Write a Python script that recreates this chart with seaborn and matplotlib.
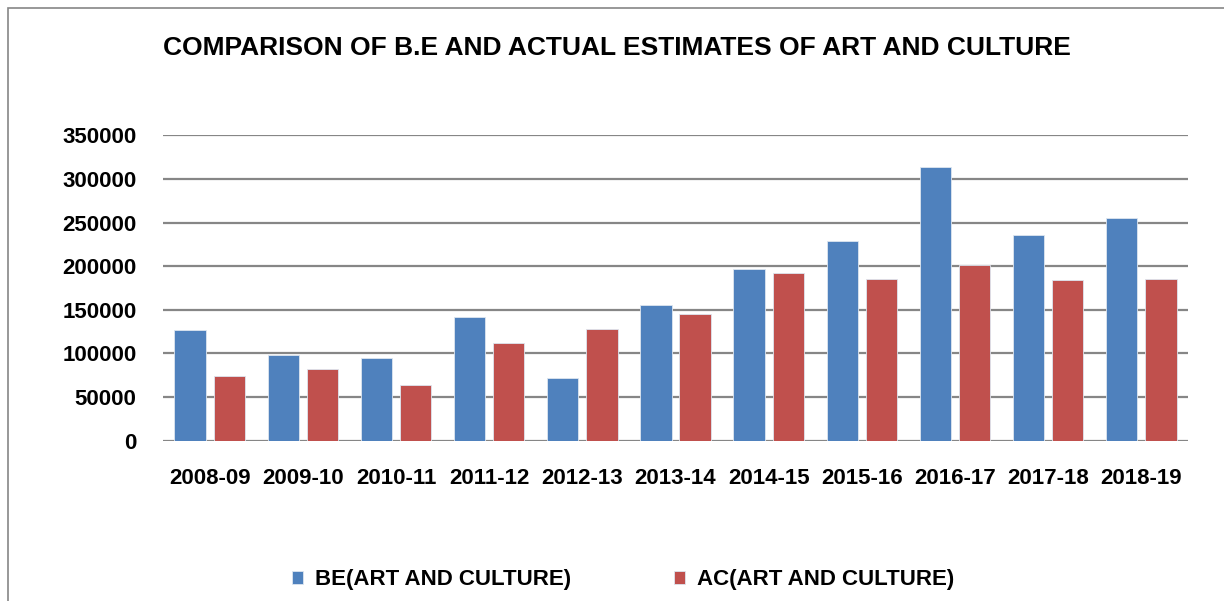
import matplotlib
matplotlib.use("Agg")
import matplotlib.pyplot as plt
import seaborn as sns
import pandas as pd
from matplotlib.patches import Rectangle

years = ["2008-09", "2009-10", "2010-11", "2011-12", "2012-13", "2013-14",
         "2014-15", "2015-16", "2016-17", "2017-18", "2018-19"]
be_values = [127000, 98500, 94700, 142000, 71800, 155000,
             196700, 228800, 313200, 236000, 254800]
ac_values = [74100, 82100, 63800, 111900, 127600, 145200,
             191800, 184900, 200900, 183700, 185300]
series_names = ["BE(ART AND CULTURE)", "AC(ART AND CULTURE)"]
title = "COMPARISON OF B.E AND ACTUAL ESTIMATES OF ART AND CULTURE"

df = pd.DataFrame({
    "year": years * 2,
    "value": be_values + ac_values,
    "series": [series_names[0]] * len(years) + [series_names[1]] * len(years),
})

sns.set_theme(style="white")
plt.rcParams['font.family'] = ['Liberation Sans', 'DejaVu Sans']
plt.rcParams['text.color'] = 'black'
plt.rcParams['xtick.color'] = 'black'
plt.rcParams['ytick.color'] = 'black'

fig = plt.figure(figsize=(12.24, 6.01), dpi=100)
ax = fig.add_axes([163/1224, 1-440.7/601, (1188-163)/1224, (440.7-135.3)/601])

palette = {series_names[0]: "#4F81BD", series_names[1]: "#C0504D"}
sns.barplot(data=df, x="year", y="value", hue="series", palette=palette,
            width=0.84, gap=0.2, ax=ax, edgecolor="#dde6f0", linewidth=0.6,
            saturation=1, legend=True)

ax.set_ylim(0, 350000)
ax.set_xlim(-0.5, len(years) - 0.5)
ax.set_yticks(range(0, 350001, 50000))
ax.set_yticklabels([str(v) for v in range(0, 350001, 50000)])
ax.yaxis.grid(True, color="#868686", linewidth=1.6)
ax.set_axisbelow(True)
for s in ax.spines.values():
    s.set_visible(False)
ax.tick_params(axis="both", length=0, labelsize=16, labelcolor="black")
ax.tick_params(axis="y", pad=19)
ax.tick_params(axis="x", pad=20)
for lbl in ax.get_xticklabels() + ax.get_yticklabels():
    lbl.set_fontweight("bold")
ax.set_xlabel("")
ax.set_ylabel("")

leg = ax.legend(loc="center", bbox_to_anchor=(623/1224, 1 - 580/601), bbox_transform=fig.transFigure,
                ncol=2, frameon=False, prop={"size": 16, "weight": "bold"},
                handlelength=0.5, handleheight=0.5, handletextpad=0.55, columnspacing=4.6)
for t in leg.get_texts():
    t.set_color("black")

fig.text(617/1224, 1 - 48/601, title, ha="center", va="center",
         fontsize=19, fontweight="bold", color="black")

fig.patches.append(Rectangle((8/1224, -0.1), 1.2, 1 - 8/601 + 0.1, transform=fig.transFigure,
                             fill=False, edgecolor="#868686", linewidth=1.2))

fig.savefig("out.png", dpi=100)
